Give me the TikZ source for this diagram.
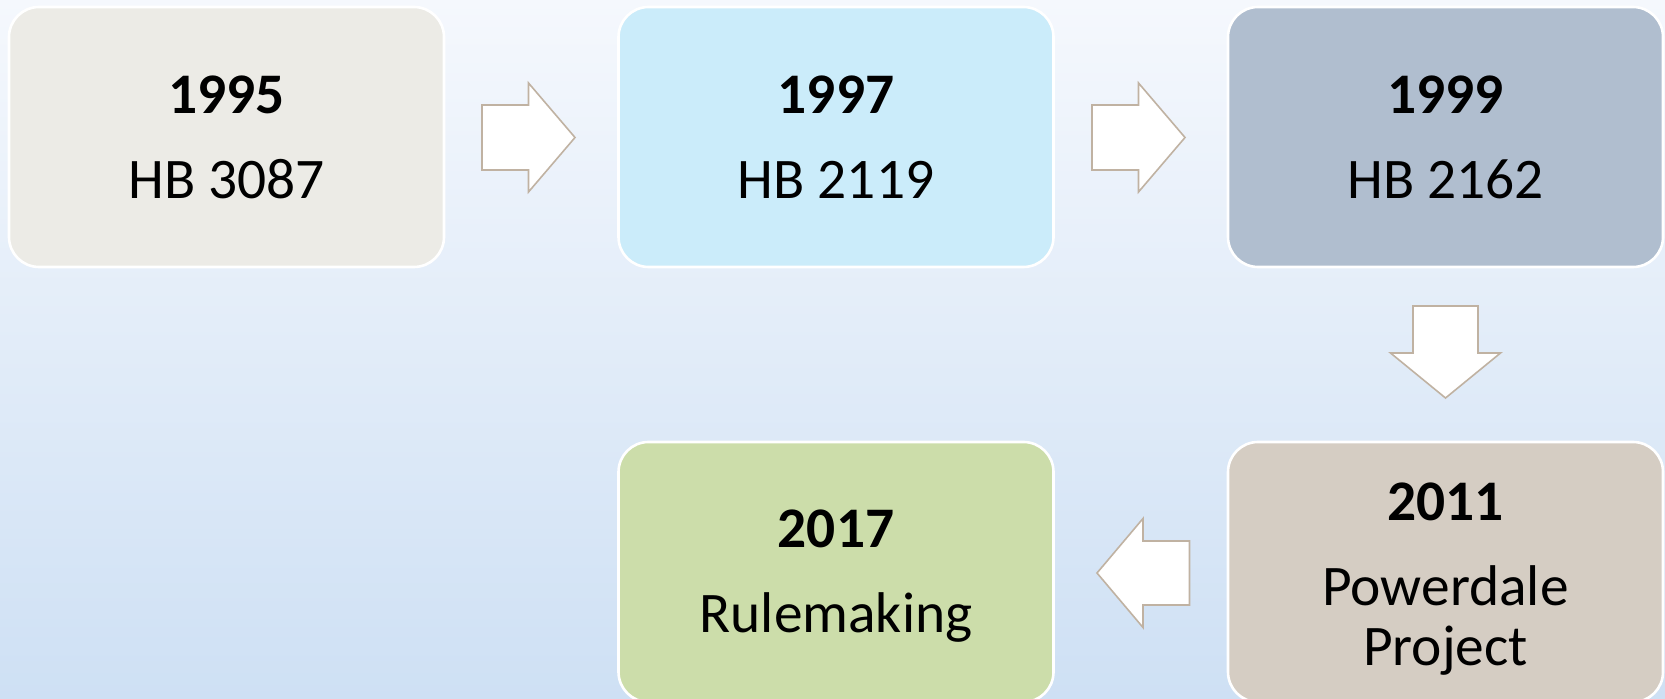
\documentclass[tikz,border=0pt]{standalone}
\usepackage{fontspec}
\setmainfont{Carlito}
\definecolor{bgtop}{RGB}{245,248,253}
\definecolor{bgbot}{RGB}{206,224,244}
\definecolor{cA}{RGB}{236,235,230}
\definecolor{cB}{RGB}{203,236,250}
\definecolor{cC}{RGB}{176,190,207}
\definecolor{cD}{RGB}{213,205,195}
\definecolor{cE}{RGB}{204,221,170}
\definecolor{arrowline}{RGB}{192,178,162}
\tikzset{
  yearbox/.style={draw=white, line width=1.3pt, rounded corners=15pt,
    minimum width=217.5pt, minimum height=130pt, inner sep=0pt},
  yeartext/.style={align=center, font=\fontsize{28.7}{30}\selectfont, inner sep=0pt},
  blockarrow/.style={fill=white, draw=arrowline, line width=0.8pt, line join=miter}
}
\begin{document}
\begin{tikzpicture}[x=0.5pt,y=-0.5pt]
\useasboundingbox (0,0) rectangle (1665,699);
\shade[top color=bgtop, bottom color=bgbot] (0,0) rectangle (1665,699);
\node[yearbox, fill=cA] (b1) at (226.5,137) {};
\node[yearbox, fill=cB] (b2) at (836,137) {};
\node[yearbox, fill=cC] (b3) at (1445.5,137) {};
\node[yearbox, fill=cD] (b4) at (1445.5,572) {};
\node[yearbox, fill=cE] (b5) at (836,572) {};
\node[yeartext] (t1) at (b1.center) {\textbf{1995}\\[12.5pt]HB 3087};
\node[yeartext] (t2) at (b2.center) {\textbf{1997}\\[12.5pt]HB 2119};
\node[yeartext] (t3) at (b3.center) {\textbf{1999}\\[12.5pt]HB 2162};
\node[yeartext] (t4) at ([yshift=-3.5pt]b4.center) {\textbf{2011}\\[12.5pt]Powerdale\\Project};
\node[yeartext] (t5) at ([yshift=-2pt]b5.center) {\textbf{2017}\\[12.5pt]Rulemaking};
% right arrows
\foreach \cx in {528.5,1138.5}{
  \draw[blockarrow] (\cx-46.5,105) -- (\cx,105) -- (\cx,83) -- (\cx+46.5,137.5)
    -- (\cx,192) -- (\cx,170) -- (\cx-46.5,170) -- cycle;
}
% down arrow
\draw[blockarrow] (1413,306) -- (1478,306) -- (1478,353) -- (1500.5,353) -- (1445.5,398)
  -- (1390.5,353) -- (1413,353) -- cycle;
% left arrow
\draw[blockarrow] (1189.5,541) -- (1143,541) -- (1143,518.5) -- (1097,573) -- (1143,627.5)
  -- (1143,605) -- (1189.5,605) -- cycle;
\end{tikzpicture}
\end{document}
